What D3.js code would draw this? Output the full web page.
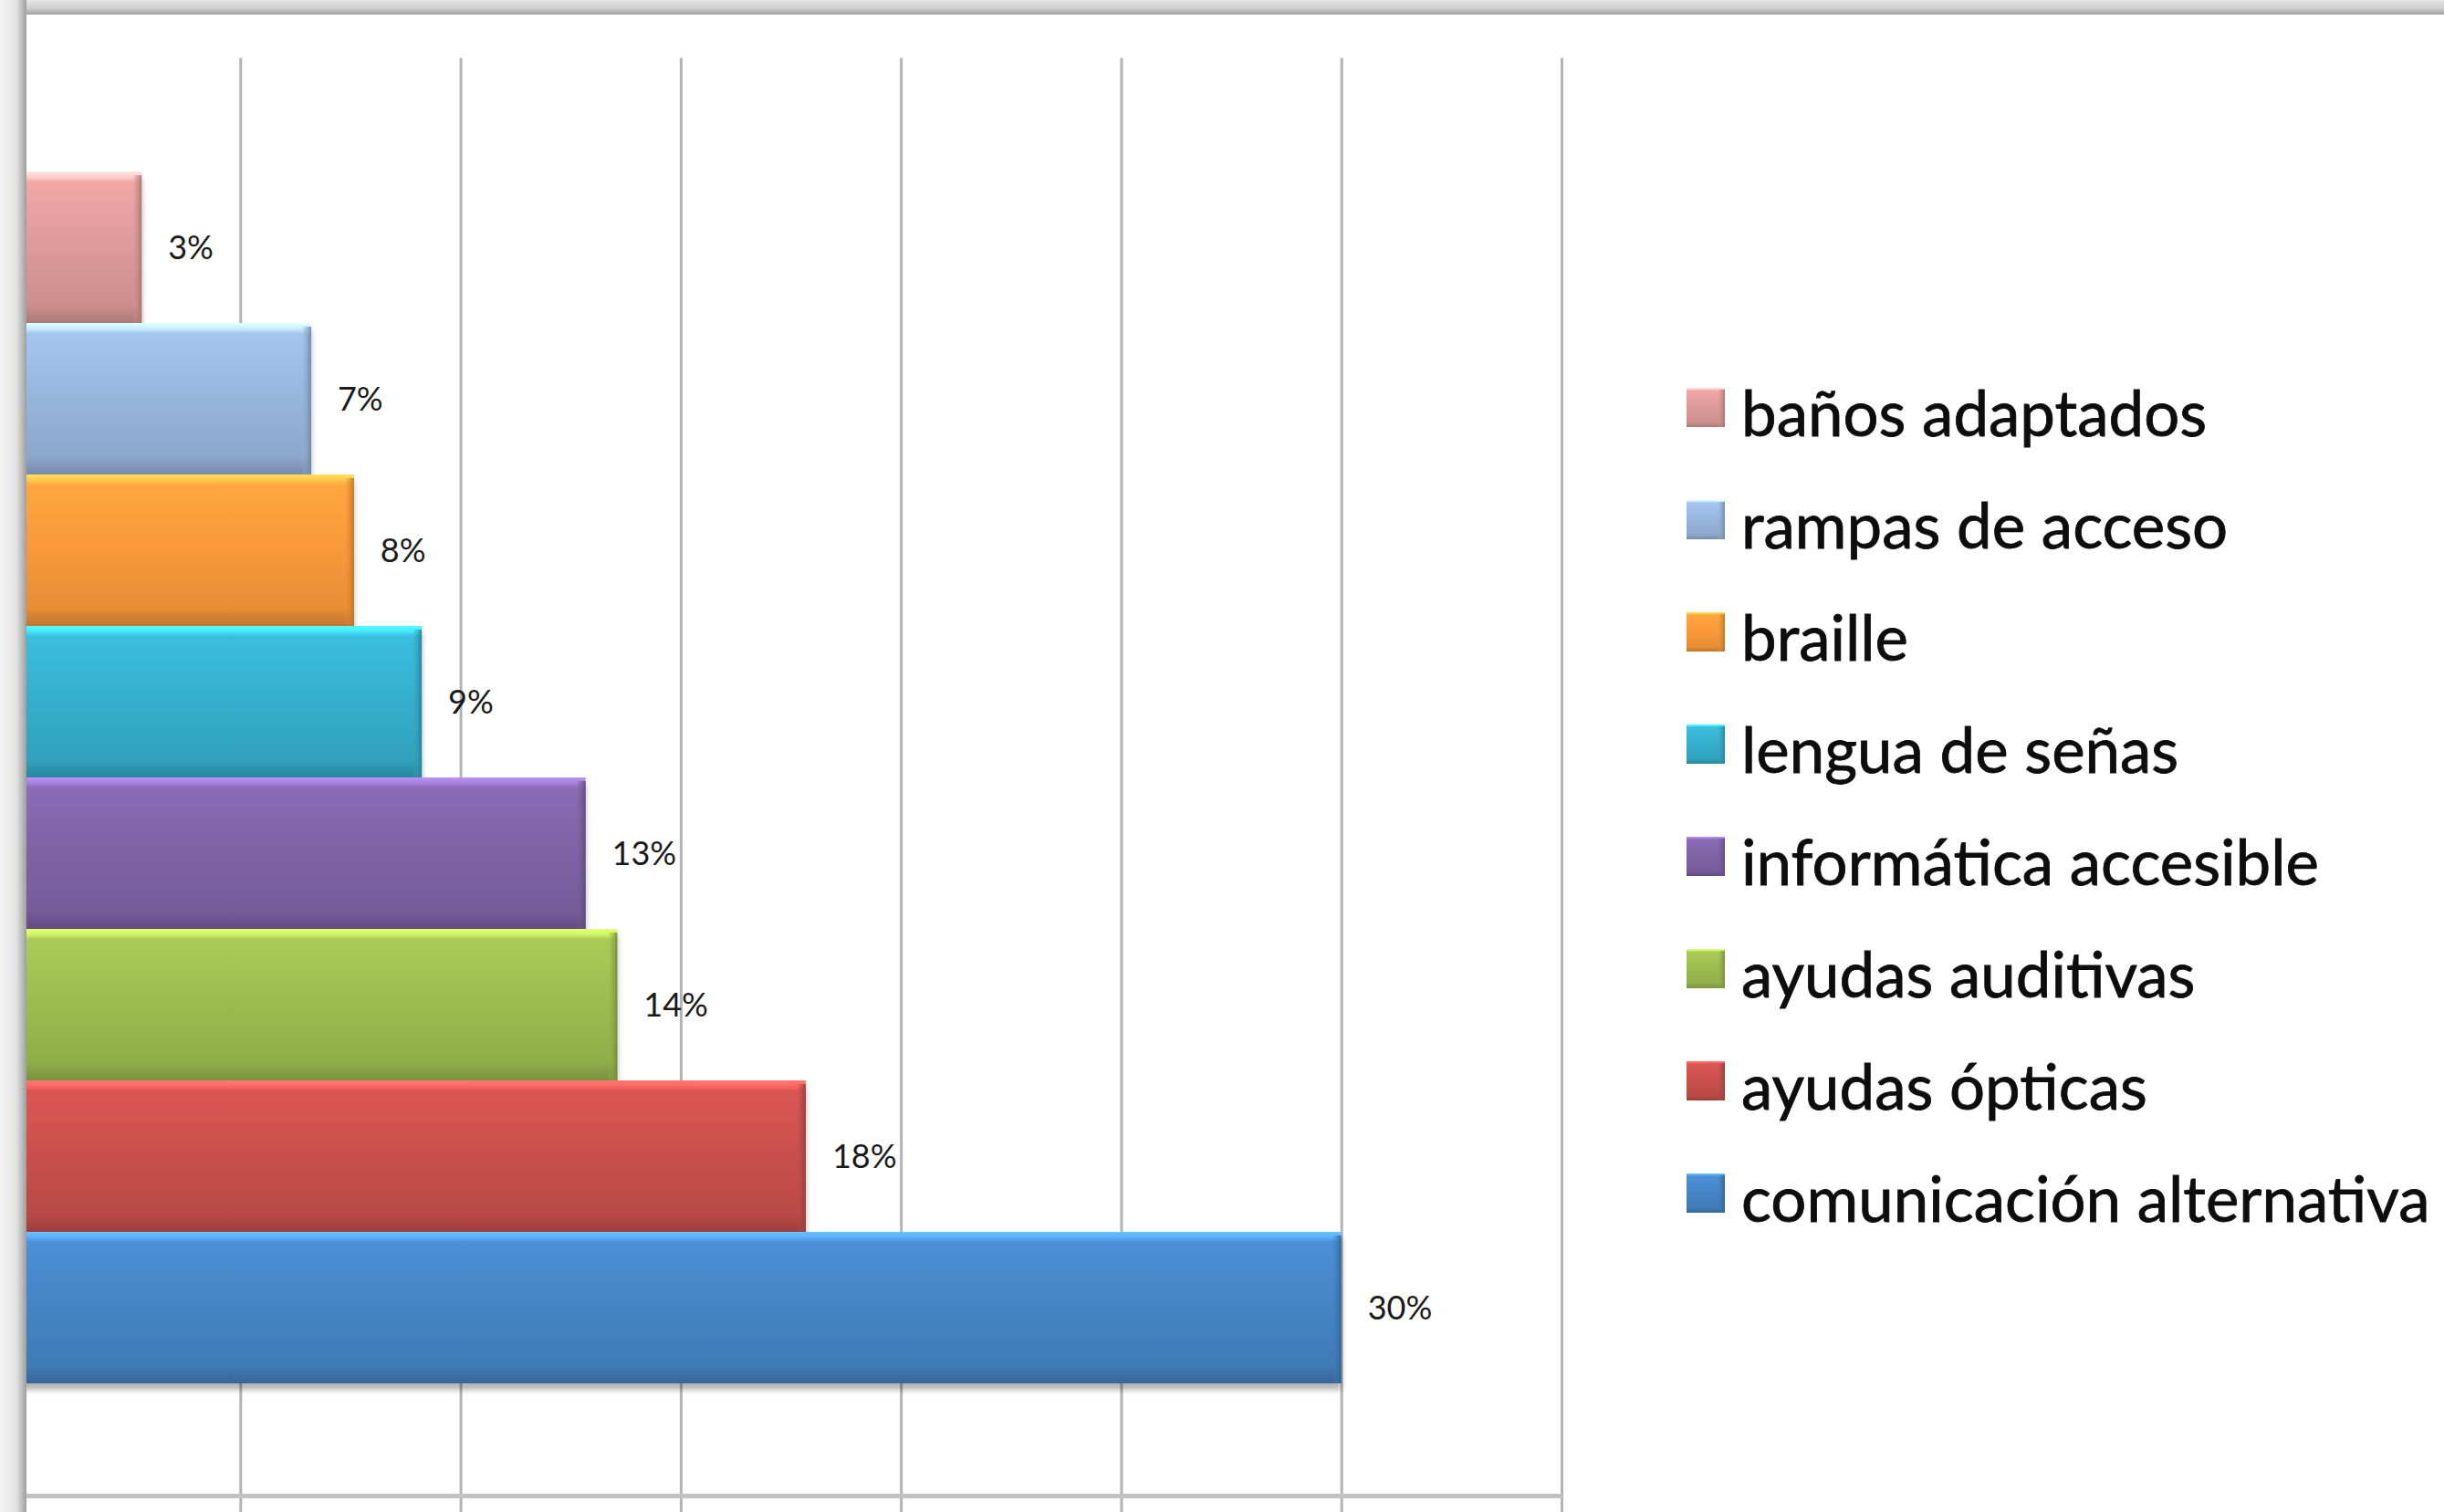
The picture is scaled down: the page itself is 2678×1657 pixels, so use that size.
<!DOCTYPE html>
<html>
<head>
<meta charset="utf-8">
<script src="https://cdn.jsdelivr.net/npm/d3@7"></script>
<style>
    body { margin: 0; background: #ffffff; }
    svg { display: block; }
</style>
</head>
<body>
<div id="chart"></div>
<script>
// series, top to bottom as they appear in the chart and legend
var seriesNames = ["baños adaptados", "rampas de acceso", "braille", "lengua de señas",
    "informática accesible", "ayudas auditivas", "ayudas ópticas", "comunicación alternativa"];
var seriesValues = [2.76, 6.61, 7.58, 9.12, 12.84, 13.56, 17.84, 30.0];
var seriesColors = ["#dc9a99", "#97b4dc", "#f8983a", "#35aecb", "#7f62a6", "#9bbb4f", "#c8504c", "#4584c4"];
var gridTicks = [5, 10, 15, 20, 25, 30, 35];

function drawChart() {
    var W = 2678, H = 1657;
    var plot = { left: 22, right: 1711, top: 63.5, bottom: 1640.5 };

    d3.select("#chart").selectAll("*").remove();
    var svg = d3.select("#chart")
        .append("svg")
        .attr("width", W)
        .attr("height", H);

    var defs = svg.append("defs");

    // bar gradients, one per series
    seriesColors.forEach(function (c, i) {
        var base = d3.color(c);
        var g = defs.append("linearGradient")
            .attr("id", "grad" + i)
            .attr("x1", 0).attr("y1", 0).attr("x2", 0).attr("y2", 1);
        var stops = [
            [0, base.brighter(1.1)],
            [0.035, base.brighter(0.8)],
            [0.07, base.brighter(0.25)],
            [0.5, base],
            [0.88, base.darker(0.2)],
            [0.94, base.darker(0.45)],
            [1, base.darker(0.7)]
        ];
        stops.forEach(function (s) {
            g.append("stop").attr("offset", s[0]).attr("stop-color", s[1].formatHex());
        });
        var e = defs.append("linearGradient")
            .attr("id", "edge" + i)
            .attr("x1", 0).attr("y1", 0).attr("x2", 1).attr("y2", 0);
        e.append("stop").attr("offset", 0).attr("stop-color", base.darker(0.1).formatHex()).attr("stop-opacity", 0.2);
        e.append("stop").attr("offset", 1).attr("stop-color", base.darker(0.9).formatHex()).attr("stop-opacity", 0.9);
    });

    var shadow = defs.append("filter")
        .attr("id", "barShadow")
        .attr("x", "-5%").attr("y", "-10%").attr("width", "110%").attr("height", "130%");
    shadow.append("feDropShadow")
        .attr("dx", 0).attr("dy", 7).attr("stdDeviation", 3)
        .attr("flood-color", "#000").attr("flood-opacity", 0.3);

    var topGrad = defs.append("linearGradient")
        .attr("id", "topBand").attr("x1", 0).attr("y1", 0).attr("x2", 0).attr("y2", 1);
    topGrad.append("stop").attr("offset", 0).attr("stop-color", "#e6e6e6");
    topGrad.append("stop").attr("offset", 0.6).attr("stop-color", "#cdcdcd");
    topGrad.append("stop").attr("offset", 1).attr("stop-color", "#a2a2a2");

    var leftGrad = defs.append("linearGradient")
        .attr("id", "leftBand").attr("x1", 0).attr("y1", 0).attr("x2", 1).attr("y2", 0);
    leftGrad.append("stop").attr("offset", 0).attr("stop-color", "#f3f3f3");
    leftGrad.append("stop").attr("offset", 0.6).attr("stop-color", "#e4e4e4");
    leftGrad.append("stop").attr("offset", 1).attr("stop-color", "#9e9e9e");

    // scales
    var x = d3.scaleLinear()
        .domain([0, 35])
        .range([plot.left, plot.right]);

    var y = d3.scaleBand()
        .domain(seriesNames)
        .range([plot.top, plot.bottom])
        .paddingInner(0)
        .paddingOuter(0.75);

    // vertical gridlines (they run past the axis line like ticks)
    var grid = svg.append("g")
        .attr("transform", "translate(0," + H + ")")
        .call(d3.axisBottom(x).tickValues(gridTicks).tickSize(-(H - plot.top)).tickFormat(""));
    grid.select(".domain").remove();
    grid.selectAll(".tick line")
        .attr("stroke", "#b3b3b3")
        .attr("stroke-width", 3);

    // horizontal axis line
    svg.append("line")
        .attr("x1", 0).attr("x2", x(35) + 1)
        .attr("y1", plot.bottom - 1).attr("y2", plot.bottom - 1)
        .attr("stroke", "#c2c2c2")
        .attr("stroke-width", 5);

    // bars
    var bars = svg.append("g").attr("filter", "url(#barShadow)");
    var barG = bars.selectAll("g.bar")
        .data(seriesNames)
        .enter()
        .append("g")
        .attr("class", "bar");

    barG.append("rect")
        .attr("x", x(0))
        .attr("y", function (d) { return y(d); })
        .attr("width", function (d, i) { return x(seriesValues[i]) - x(0); })
        .attr("height", y.bandwidth())
        .attr("fill", function (d, i) { return "url(#grad" + i + ")"; });

    barG.append("rect")
        .attr("x", function (d, i) { return x(seriesValues[i]) - 9; })
        .attr("y", function (d) { return y(d) + 4; })
        .attr("width", 9)
        .attr("height", y.bandwidth() - 4)
        .attr("fill", function (d, i) { return "url(#edge" + i + ")"; });

    // value labels
    svg.append("g")
        .selectAll("text")
        .data(seriesNames)
        .enter()
        .append("text")
        .attr("x", function (d, i) { return x(seriesValues[i]) + 29; })
        .attr("y", function (d) { return y(d) + y.bandwidth() / 2 + 13; })
        .attr("font-family", "Lato, 'Open Sans', sans-serif")
        .attr("font-size", "36px")
        .attr("fill", "#1a1a1a")
        .text(function (d, i) { return Math.round(seriesValues[i]) + "%"; });

    // frame shadows (top and left)
    svg.append("rect")
        .attr("x", 0).attr("y", 0).attr("width", W).attr("height", 16)
        .attr("fill", "url(#topBand)");
    svg.append("rect")
        .attr("x", 0).attr("y", 0).attr("width", 29).attr("height", H)
        .attr("fill", "url(#leftBand)");

    // legend
    var legend = svg.append("g")
        .attr("transform", "translate(1848,425)");
    var item = legend.selectAll("g")
        .data(seriesNames)
        .enter()
        .append("g")
        .attr("transform", function (d, i) { return "translate(0," + (i * 123) + ")"; });
    item.append("rect")
        .attr("width", 42)
        .attr("height", 43)
        .attr("fill", function (d, i) { return "url(#grad" + i + ")"; });
    item.append("rect")
        .attr("x", 35).attr("y", 2)
        .attr("width", 7).attr("height", 41)
        .attr("fill", function (d, i) { return "url(#edge" + i + ")"; });
    item.append("text")
        .attr("x", 60)
        .attr("y", 53)
        .attr("font-family", "Lato, 'Open Sans', sans-serif")
        .attr("font-size", "69px")
        .attr("fill", "#0d0d0d")
        .attr("stroke", "#0d0d0d")
        .attr("stroke-width", 0.8)
        .text(function (d) { return d; });
}

drawChart();
</script>
</body>
</html>
